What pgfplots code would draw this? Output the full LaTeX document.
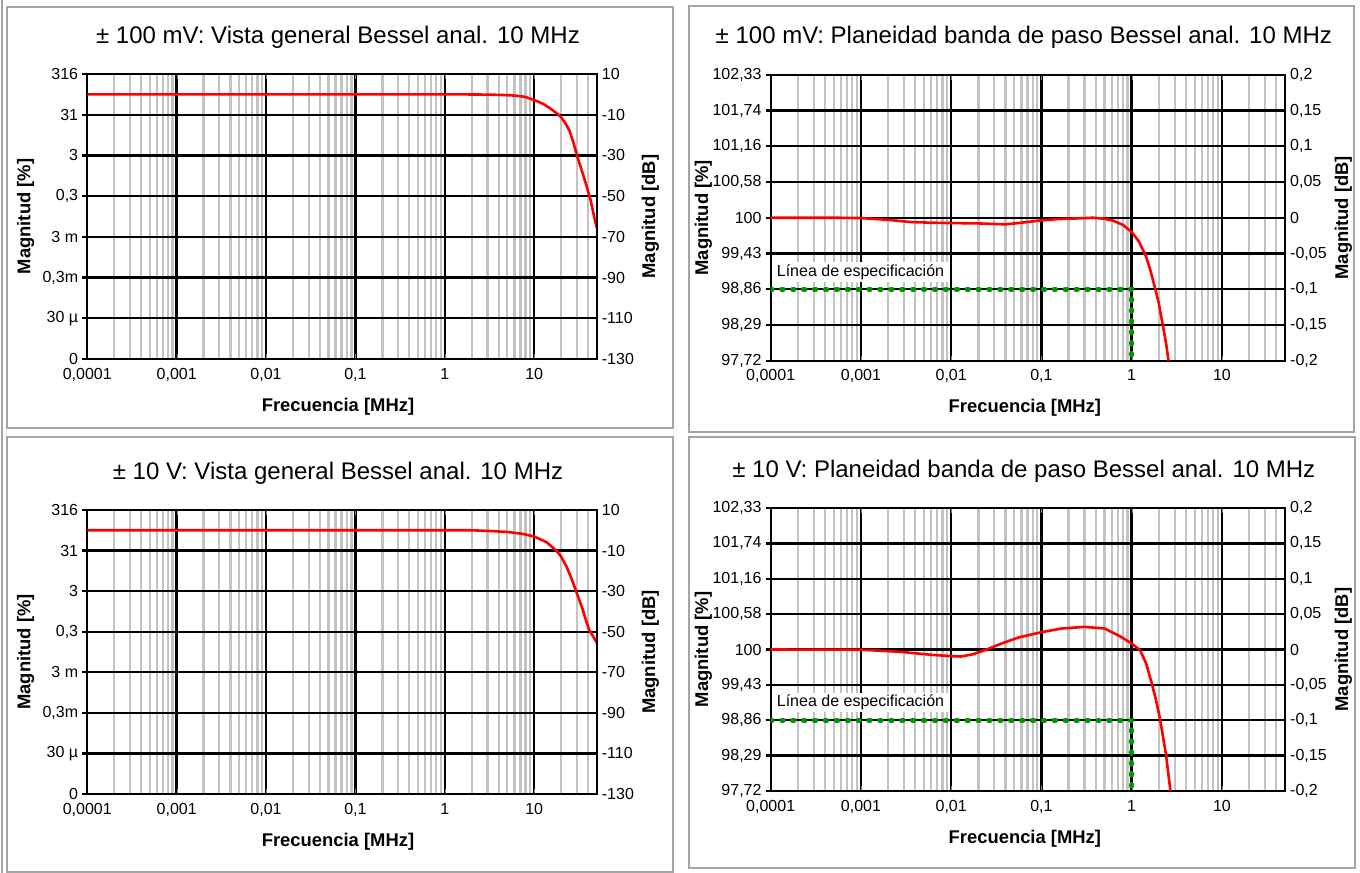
\documentclass[border=0pt]{standalone}
\usepackage{pgfplots}
\pgfplotsset{compat=1.18}
\usepackage{fontspec}
\setmainfont{Liberation Sans}

\definecolor{specgreen}{RGB}{0,150,0}
\definecolor{framegray}{RGB}{165,165,165}
\definecolor{minorgray}{RGB}{195,195,195}

\newcommand{\tickfont}{\fontsize{16bp}{19bp}\selectfont}
\newcommand{\labfont}{\fontsize{18.4bp}{22bp}\selectfont\bfseries}
\newcommand{\titfont}{\fontsize{24bp}{28bp}\selectfont}

\tikzset{
  myredline/.style={red, line width=2.6bp},
  mygreenline/.style={specgreen, line width=5bp, line cap=round, dash pattern=on 1.6bp off 9.3bp},
}

\pgfplotsset{
  mypanel/.style={
    scale only axis,
    xtick={1e-4,1e-3,1e-2,1e-1,1,10},
    xticklabels={{0,0001},{0,001},{0,01},{0,1},1,10},
    minor xtick={2e-4,3e-4,4e-4,5e-4,6e-4,7e-4,8e-4,9e-4,
                 2e-3,3e-3,4e-3,5e-3,6e-3,7e-3,8e-3,9e-3,
                 0.02,0.03,0.04,0.05,0.06,0.07,0.08,0.09,
                 0.2,0.3,0.4,0.5,0.6,0.7,0.8,0.9,
                 2,3,4,5,6,7,8,9,20,30,40},
    grid=both,
    major grid style={black, line width=2.4bp},
    minor grid style={minorgray, line width=2.3bp},
    axis line style={black, line width=2.4bp},
    tickwidth=0pt, subtickwidth=0pt,
    ytick pos=left, ytick align=outside,
    ytick style={black, line width=2.4bp},
    major tick length=5bp,
    ticklabel style={font=\tickfont},
    xticklabel style={anchor=base, inner sep=0pt, yshift=-20bp},
    yticklabel style={anchor=east, inner sep=0pt, xshift=-4bp},
    title style={font=\titfont, anchor=base},
    xlabel style={font=\labfont, anchor=base},
    xlabel={Frecuencia [MHz]},
    ylabel={Magnitud [\%]},
    ylabel style={font=\labfont, anchor=base},
  },
  myright/.style={
    scale only axis,
    axis x line=none, axis y line*=right,
    axis line style={black, line width=2.4bp},
    tickwidth=0pt,
    ticklabel style={font=\tickfont},
    yticklabel style={anchor=west, inner sep=0pt, xshift=5bp},
    ylabel={Magnitud [dB]},
    ylabel style={font=\labfont, anchor=base},
  },
}

\begin{document}
\begin{tikzpicture}
\useasboundingbox (0,0) rectangle (1360bp,-873bp);

% panel frames
\draw[framegray, line width=1.4bp] (2bp,0bp) -- (2bp,-873bp);
\draw[framegray, line width=2bp] (7bp,-7bp) rectangle (673bp,-428bp);
\draw[framegray, line width=2bp] (689bp,-6bp) rectangle (1354bp,-432bp);
\draw[framegray, line width=2bp] (7bp,-437bp) rectangle (673bp,-872bp);
\draw[framegray, line width=2bp] (689bp,-437bp) rectangle (1355bp,-868bp);

% ---------- top left ----------
\begin{axis}[mypanel, xmode=log, xmin=1e-4, xmax=50, ymin=-130, ymax=10,
  ytick={-130,-110,-90,-70,-50,-30,-10,10},
  at={(87.3bp,-359bp)}, anchor=south west, width=509.4bp, height=285bp,
  title={± 100 mV: Vista general Bessel anal. 10 MHz},
  title style={at={([xshift=-4bp,yshift=25bp]axis description cs:0.5,1)}},
  xlabel style={at={([xshift=-4bp,yshift=-52bp]axis description cs:0.5,0)}},
  yticklabels={0,30 µ,{0,3m},3 m,{0,3},3,31,316},
  ylabel style={at={([xshift=-57bp]axis description cs:0,0.5)}}]
\addplot[myredline] coordinates {
 (1e-4,0) (1,0) (2,-0.05) (3,-0.12) (4,-0.25) (5,-0.4) (6,-0.6) (7,-0.9)
 (8,-1.3) (10,-2.8) (12.5,-4.6) (15,-6.8) (17.5,-9) (19.8,-11) (22.2,-14)
 (24.9,-18) (27.6,-24) (30.4,-30.7) (34.8,-38.7) (38.5,-45) (42.8,-52)
 (46,-58.5) (50,-65.5)};
\end{axis}
\begin{axis}[myright, xmode=log, xmin=1e-4, xmax=50, ymin=-130, ymax=10,
  ytick={-130,-110,-90,-70,-50,-30,-10,10},
  at={(87.3bp,-359bp)}, anchor=south west, width=509.4bp, height=285bp,
  yticklabels={-130,-110,-90,-70,-50,-30,-10,10},
  ylabel style={at={([xshift=58.5bp]axis description cs:1,0.5)}}]
\end{axis}

% ---------- top right ----------
\begin{axis}[mypanel, xmode=log, xmin=1e-4, xmax=50, ymin=-0.2, ymax=0.2,
  ytick={-0.2,-0.15,-0.1,-0.05,0,0.05,0.1,0.15,0.2},
  at={(770.7bp,-360.7bp)}, anchor=south west, width=514.3bp, height=286bp,
  title={± 100 mV: Planeidad banda de paso Bessel anal. 10 MHz},
  title style={at={([xshift=-4bp,yshift=25bp]axis description cs:0.5,1)}},
  xlabel style={at={([xshift=-3bp,yshift=-52bp]axis description cs:0.5,0)}},
  yticklabels={{97,72},{98,29},{98,86},{99,43},100,{100,58},{101,16},{101,74},{102,33}},
  ylabel style={at={([xshift=-62.5bp]axis description cs:0,0.5)}}]
\node[anchor=base west, fill=white, inner xsep=4bp, inner ysep=2bp,
  font=\fontsize{16bp}{19bp}\selectfont]
  at ([xshift=2bp,yshift=13bp]axis cs:1e-4,-0.1) {Línea de especificación};
\addplot[mygreenline] coordinates {(1e-4,-0.1) (1,-0.1) (1,-0.2)};
\addplot[myredline] coordinates {
 (1e-4,0) (5e-4,0) (1e-3,-0.0005) (2e-3,-0.003) (3.5e-3,-0.006) (6e-3,-0.007)
 (0.01,-0.0075) (0.02,-0.008) (0.04,-0.0093) (0.06,-0.007) (0.1,-0.0037)
 (0.15,-0.002) (0.25,-0.001) (0.37,0) (0.5,-0.0015) (0.62,-0.004) (0.8,-0.01)
 (1,-0.02) (1.2,-0.033) (1.44,-0.054) (1.6,-0.072) (1.83,-0.1) (2.0,-0.12)
 (2.21,-0.15) (2.4,-0.175) (2.56,-0.2)};
\end{axis}
\begin{axis}[myright, xmode=log, xmin=1e-4, xmax=50, ymin=-0.2, ymax=0.2,
  ytick={-0.2,-0.15,-0.1,-0.05,0,0.05,0.1,0.15,0.2},
  at={(770.7bp,-360.7bp)}, anchor=south west, width=514.3bp, height=286bp,
  yticklabels={{-0,2},{-0,15},{-0,1},{-0,05},0,{0,05},{0,1},{0,15},{0,2}},
  ylabel style={at={([xshift=63bp]axis description cs:1,0.5)}}]
\end{axis}

% ---------- bottom left ----------
\begin{axis}[mypanel, xmode=log, xmin=1e-4, xmax=50, ymin=-130, ymax=10,
  ytick={-130,-110,-90,-70,-50,-30,-10,10},
  at={(87.3bp,-794bp)}, anchor=south west, width=509.4bp, height=284bp,
  title={± 10 V: Vista general Bessel anal. 10 MHz},
  title style={at={([xshift=-4bp,yshift=25bp]axis description cs:0.5,1)}},
  xlabel style={at={([xshift=-4bp,yshift=-52bp]axis description cs:0.5,0)}},
  yticklabels={0,30 µ,{0,3m},3 m,{0,3},3,31,316},
  ylabel style={at={([xshift=-57bp]axis description cs:0,0.5)}}]
\addplot[myredline] coordinates {
 (1e-4,0) (2,0) (3,-0.3) (5,-0.8) (7.5,-1.8) (10,-3.1) (13.7,-5.8)
 (17.7,-10) (20,-13) (22.8,-17.6) (26,-23.5) (29.4,-30) (34.8,-38.9)
 (38,-44.5) (41.6,-49.6) (46,-52.5) (50,-55.5)};
\end{axis}
\begin{axis}[myright, xmode=log, xmin=1e-4, xmax=50, ymin=-130, ymax=10,
  ytick={-130,-110,-90,-70,-50,-30,-10,10},
  at={(87.3bp,-794bp)}, anchor=south west, width=509.4bp, height=284bp,
  yticklabels={-130,-110,-90,-70,-50,-30,-10,10},
  ylabel style={at={([xshift=58.5bp]axis description cs:1,0.5)}}]
\end{axis}

% ---------- bottom right ----------
\begin{axis}[mypanel, xmode=log, xmin=1e-4, xmax=50, ymin=-0.2, ymax=0.2,
  ytick={-0.2,-0.15,-0.1,-0.05,0,0.05,0.1,0.15,0.2},
  at={(770.7bp,-791bp)}, anchor=south west, width=514.3bp, height=283bp,
  title={± 10 V: Planeidad banda de paso Bessel anal. 10 MHz},
  title style={at={([xshift=-4bp,yshift=25bp]axis description cs:0.5,1)}},
  xlabel style={at={([xshift=-3bp,yshift=-52bp]axis description cs:0.5,0)}},
  yticklabels={{97,72},{98,29},{98,86},{99,43},100,{100,58},{101,16},{101,74},{102,33}},
  ylabel style={at={([xshift=-62.5bp]axis description cs:0,0.5)}}]
\node[anchor=base west, fill=white, inner xsep=4bp, inner ysep=2bp,
  font=\fontsize{16bp}{19bp}\selectfont]
  at ([xshift=2bp,yshift=13.5bp]axis cs:1e-4,-0.1) {Línea de especificación};
\addplot[mygreenline] coordinates {(1e-4,-0.1) (1,-0.1) (1,-0.2)};
\addplot[myredline] coordinates {
 (1e-4,0) (1e-3,-0.0003) (2.76e-3,-0.0033) (6e-3,-0.0075) (0.01,-0.0094)
 (0.0129,-0.0099) (0.017,-0.007) (0.0236,-0.001) (0.0362,0.0085)
 (0.0556,0.017) (0.1,0.0245) (0.168,0.0297) (0.302,0.032) (0.5,0.0297)
 (0.76,0.018) (1,0.0085) (1.24,-0.001) (1.45,-0.02) (1.63,-0.043)
 (1.85,-0.07) (2.06,-0.098) (2.39,-0.147) (2.66,-0.195) (2.7,-0.2)};
\end{axis}
\begin{axis}[myright, xmode=log, xmin=1e-4, xmax=50, ymin=-0.2, ymax=0.2,
  ytick={-0.2,-0.15,-0.1,-0.05,0,0.05,0.1,0.15,0.2},
  at={(770.7bp,-791bp)}, anchor=south west, width=514.3bp, height=283bp,
  yticklabels={{-0,2},{-0,15},{-0,1},{-0,05},0,{0,05},{0,1},{0,15},{0,2}},
  ylabel style={at={([xshift=63bp]axis description cs:1,0.5)}}]
\end{axis}
\end{tikzpicture}
\end{document}
